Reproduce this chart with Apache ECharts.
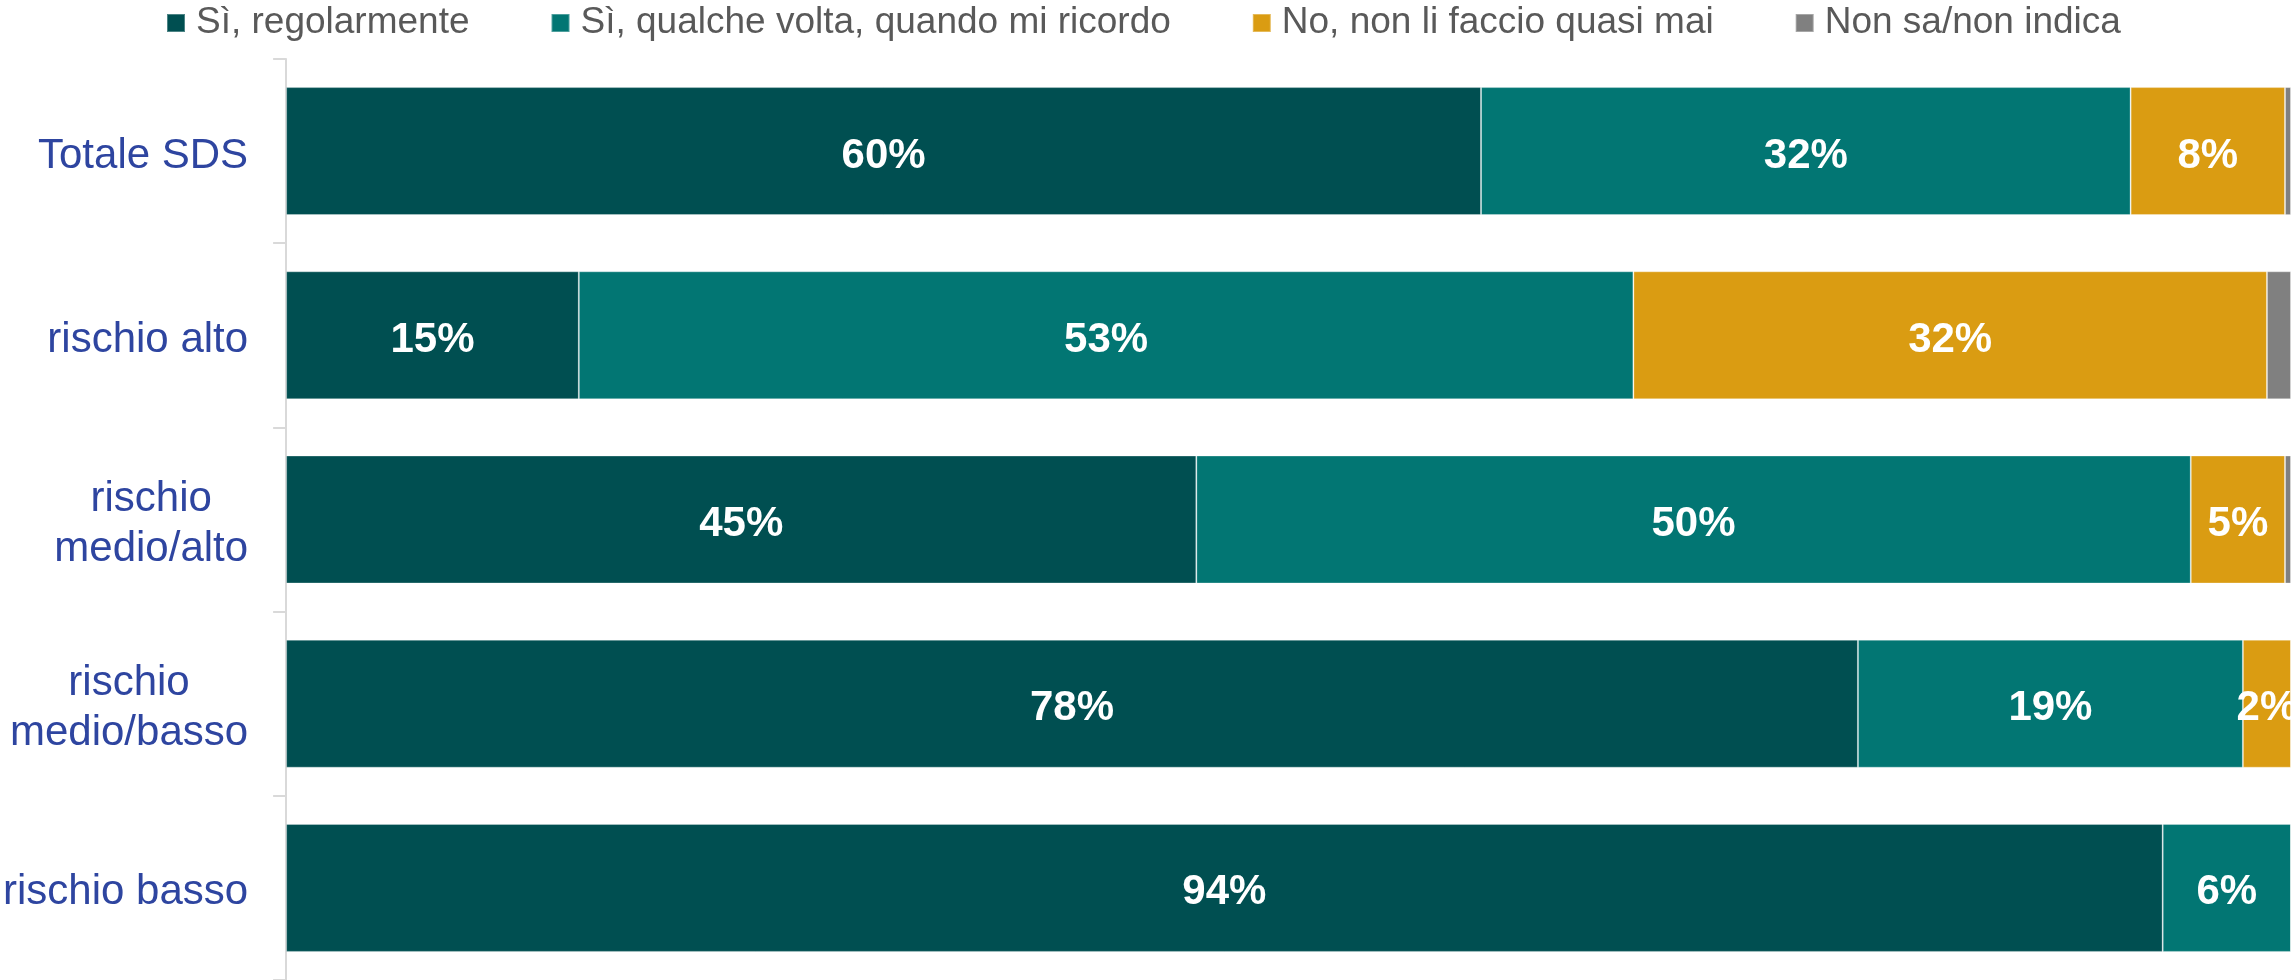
<!DOCTYPE html>
<html>
<head>
<meta charset="utf-8">
<script src="https://cdn.jsdelivr.net/npm/echarts@6/dist/echarts.min.js"></script>
<style>
  html, body { margin: 0; padding: 0; background: #ffffff; }
  #chart { width: 2292px; height: 980px; }
</style>
</head>
<body>
<div id="chart"></div>
<script>
const categories = ['Totale SDS', 'rischio alto', 'rischio\nmedio/alto', 'rischio\nmedio/basso', 'rischio basso'];
const seriesNames = ['Sì, regolarmente', 'Sì, qualche volta, quando mi ricordo', 'No, non li faccio quasi mai', 'Non sa/non indica'];
const regolarmente = [59.6, 14.6, 45.4, 78.4, 93.6];
const qualcheVolta = [32.4, 52.6, 49.6, 19.2, 6.4];
const quasiMai = [7.7, 31.6, 4.7, 2.4, 0];
const nonSa = [0.3, 1.2, 0.3, 0, 0];
const colors = ['#004F51', '#027673', '#DA9C12', '#808080'];
const showLabels = [true, true, true, false];

const FONT = "'Liberation Sans', Arial, sans-serif";
const values = [regolarmente, qualcheVolta, quasiMai, nonSa];

const chart = echarts.init(document.getElementById('chart'), null, { renderer: 'canvas' });

const series = seriesNames.map((name, i) => ({
  name: name,
  type: 'bar',
  stack: 'total',
  barWidth: 128,
  data: values[i],
  itemStyle: {
    color: colors[i],
    borderColor: 'rgba(255,255,255,0.3)',
    borderWidth: 1
  },
  label: {
    show: showLabels[i],
    position: 'inside',
    offset: [0, 5],
    color: '#ffffff',
    fontFamily: FONT,
    fontWeight: 'bold',
    fontSize: 42,
    formatter: p => (p.value > 0 ? Math.round(p.value) + '%' : '')
  },
  emphasis: { disabled: true }
}));

chart.setOption({
  animation: false,
  backgroundColor: '#ffffff',
  legend: {
    data: seriesNames,
    left: 166,
    top: 0,
    padding: 0,
    itemGap: 81,
    itemWidth: 18,
    itemHeight: 18,
    icon: 'rect',
    textStyle: {
      color: '#595959',
      fontFamily: FONT,
      fontSize: 37,
      lineHeight: 46,
      padding: [0, 0, 0, 6]
    }
  },
  grid: { left: 283, right: 1, top: 59, bottom: 0, containLabel: false },
  xAxis: {
    type: 'value',
    min: 0,
    max: 100,
    show: false
  },
  yAxis: {
    type: 'category',
    inverse: true,
    data: categories,
    axisLine: { show: true, lineStyle: { color: '#D9D9D9', width: 2 } },
    axisTick: { show: true, length: 13, lineStyle: { color: '#D9D9D9', width: 2 } },
    axisLabel: {
      margin: 38,
      color: '#2E45A0',
      fontFamily: FONT,
      fontSize: 42,
      lineHeight: 50,
      padding: [10, 0, 0, 0],
      formatter: v => v.split('\n').map(s => '{c|' + s + '}').join('\n'),
      rich: {
        c: { align: 'center', color: '#2E45A0', fontFamily: FONT, fontSize: 42, lineHeight: 50 }
      }
    },
    splitLine: { show: false }
  },
  series: series
});
</script>
</body>
</html>
